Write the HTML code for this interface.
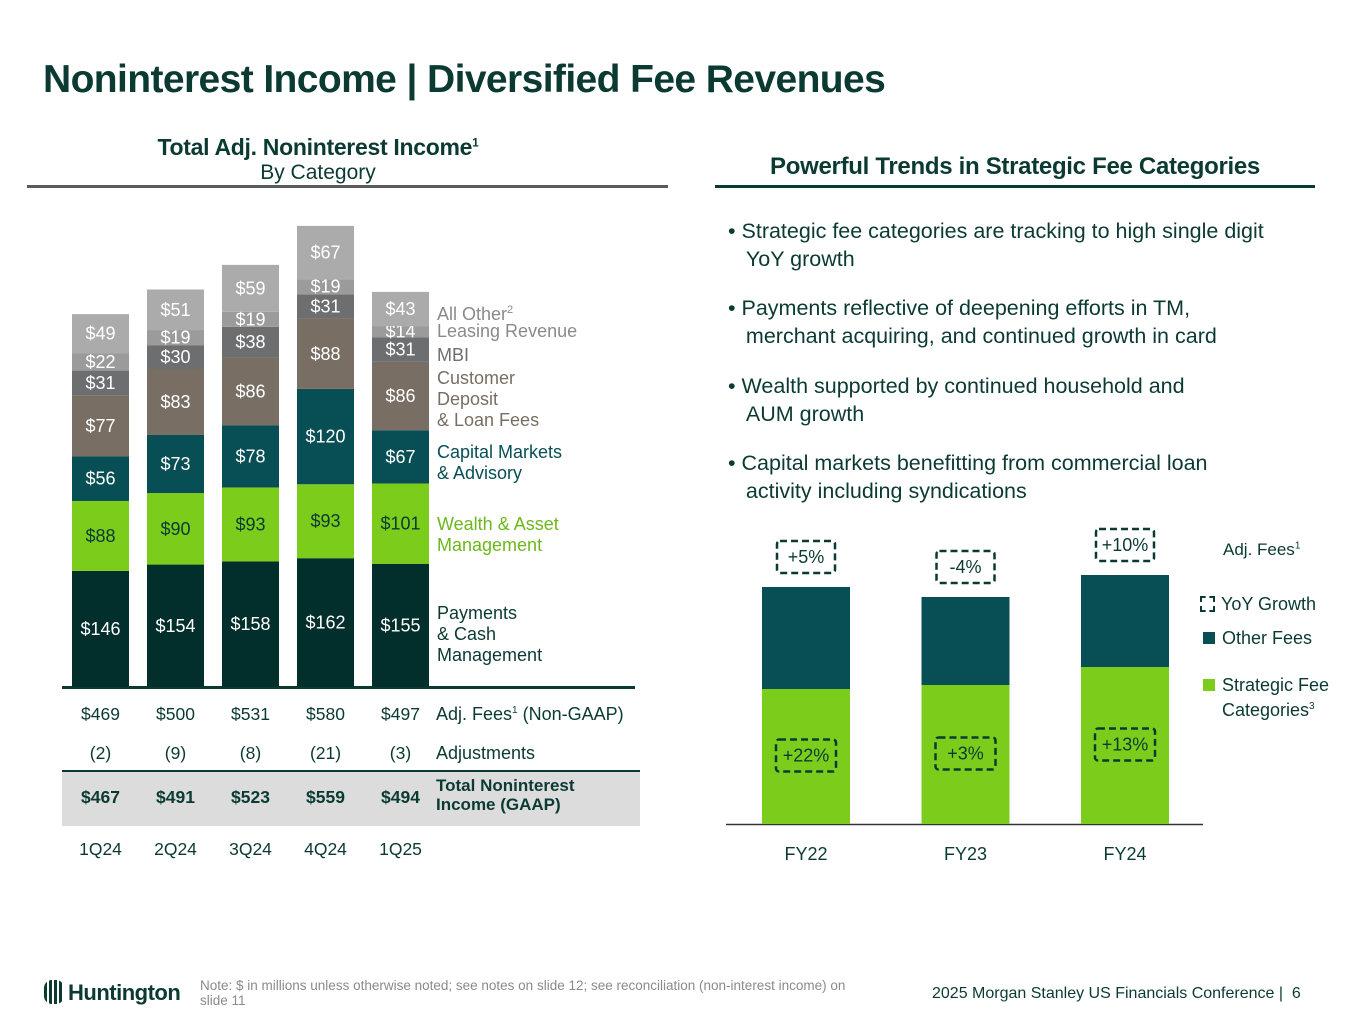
<!DOCTYPE html>
<html><head><meta charset="utf-8"><style>
body{margin:0;width:1365px;height:1024px;background:#fff;position:relative;font-family:"Liberation Sans",sans-serif;overflow:hidden}
.a{position:absolute;white-space:nowrap}
.c{transform:translateX(-50%)}
.lg{font-size:18px;line-height:21px;position:absolute}
.bul{position:absolute;left:728px;font-size:21.5px;line-height:28px;color:#0b3a33}
</style></head><body>
<div class="a" style="left:43px;top:58px;font-size:39px;font-weight:bold;color:#0b3a33;letter-spacing:-0.6px">Noninterest Income | Diversified Fee Revenues</div>

<div class="a c" style="left:318px;top:134px;font-size:23px;font-weight:bold;color:#0b3a33;letter-spacing:-0.3px">Total Adj. Noninterest Income<sup style="font-size:12px">1</sup></div>
<div class="a c" style="left:318px;top:161px;font-size:21px;color:#0b3a33">By Category</div>
<div class="a" style="left:27px;top:185px;width:641px;height:3px;background:#5b5b5b"></div>

<div class="a c" style="left:1015px;top:153px;font-size:24px;font-weight:bold;color:#0b3a33;letter-spacing:-0.3px">Powerful Trends in Strategic Fee Categories</div>
<div class="a" style="left:715px;top:185px;width:600px;height:3px;background:#0b3a33"></div>

<div class="bul" style="top:217px">• Strategic fee categories are tracking to high single digit<br>&nbsp;&nbsp;&nbsp;YoY growth</div>
<div class="bul" style="top:294px">• Payments reflective of deepening efforts in TM,<br>&nbsp;&nbsp;&nbsp;merchant acquiring, and continued growth in card</div>
<div class="bul" style="top:372px">• Wealth supported by continued household and<br>&nbsp;&nbsp;&nbsp;AUM growth</div>
<div class="bul" style="top:449px">• Capital markets benefitting from commercial loan<br>&nbsp;&nbsp;&nbsp;activity including syndications</div>

<div class="a" style="left:62px;top:770px;width:578px;height:54px;background:#dcdcdc;border-top:2px solid #0b3a33"></div>
<div class="a" style="left:62px;top:686px;width:573px;height:3px;background:#0b3a33"></div>

<svg id="left" class="a" style="left:0;top:0" width="700" height="900"></svg>

<div class="lg" style="left:437px;top:300px;color:#8a8a8a">All Other<sup style="font-size:11px">2</sup></div>
<div class="lg" style="left:437px;top:321px;color:#8a8a8a">Leasing Revenue</div>
<div class="lg" style="left:437px;top:345px;color:#6d6e6f">MBI</div>
<div class="lg" style="left:437px;top:368px;color:#786e63">Customer<br>Deposit<br>&amp; Loan Fees</div>
<div class="lg" style="left:437px;top:442px;color:#074f54">Capital Markets<br>&amp; Advisory</div>
<div class="lg" style="left:437px;top:514px;color:#6cb81c">Wealth &amp; Asset<br>Management</div>
<div class="lg" style="left:437px;top:603px;color:#0b3a33">Payments<br>&amp; Cash<br>Management</div>

<div class="a" style="left:436px;top:704px;font-size:18px;color:#0b3a33">Adj. Fees<sup style="font-size:10px">1</sup> (Non-GAAP)</div>
<div class="a" style="left:436px;top:743px;font-size:18px;color:#0b3a33">Adjustments</div>
<div class="a" style="left:436px;top:776px;font-size:17px;font-weight:bold;line-height:19px;color:#0b3a33">Total Noninterest<br>Income (GAAP)</div>

<svg id="right" class="a" style="left:0;top:0" width="1365" height="900"></svg>
<div class="a" style="left:1223px;top:540px;font-size:17px;color:#0b3a33">Adj. Fees<sup style="font-size:10px">1</sup></div>
<div class="a" style="left:1200px;top:594px;font-size:18px;color:#0b3a33"><span style="display:inline-block;width:11px;height:12px;border:2px dashed #0b3a33;margin-right:6px;vertical-align:-2px"></span>YoY Growth</div>
<div class="a" style="left:1203px;top:628px;font-size:18px;color:#0b3a33"><span style="display:inline-block;width:12px;height:12px;background:#074f54;margin-right:7px"></span>Other Fees</div>
<div class="a" style="left:1203px;top:674px;font-size:18px;line-height:22px;color:#0b3a33"><span style="display:inline-block;width:12px;height:12px;background:#7ccc1c;margin-right:7px"></span>Strategic Fee<br><span style="margin-left:19px">Categories<sup style="font-size:10px">3</sup></span></div>

<div class="a" style="left:44px;top:980px;font-size:22px;font-weight:bold;color:#0b3a33;letter-spacing:-0.5px"><span style="display:inline-block;width:20px;height:24px;background:repeating-linear-gradient(90deg,#0b3a33 0 3px,#fff 3px 5px);border-radius:8px;vertical-align:-4px;margin-right:4px"></span>Huntington</div>
<div class="a" style="left:200px;top:978px;font-size:13.5px;line-height:15px;color:#8a8a8a">Note: $ in millions unless otherwise noted; see notes on slide 12; see reconciliation (non-interest income) on<br>slide 11</div>
<div class="a" style="left:932px;top:985px;font-size:16px;color:#0b3a33">2025 Morgan Stanley US Financials Conference | &nbsp;6</div>

<script>
const quarters=["1Q24","2Q24","3Q24","4Q24","1Q25"];
const payments=[146,154,158,162,155];
const wealth=[88,90,93,93,101];
const capital=[56,73,78,120,67];
const customer=[77,83,86,88,86];
const mbi=[31,30,38,31,31];
const leasing=[22,19,19,19,14];
const allOther=[49,51,59,67,43];
const adjFees=["$469","$500","$531","$580","$497"];
const adjustments=["(2)","(9)","(8)","(21)","(3)"];
const totals=["$467","$491","$523","$559","$494"];

const NS="http://www.w3.org/2000/svg";
function mk(svg,tag,at){const e=document.createElementNS(NS,tag);for(const k in at)e.setAttribute(k,at[k]);svg.appendChild(e);return e;}
const L=document.getElementById('left');
const base=687, sc=0.795, bw=57;
const xL=i=>72+i*75;
const yL=v=>base-v*sc;
const series=[[payments,"#022e2b","#fff"],[wealth,"#7ccc1c","#0b3a33"],[capital,"#074f54","#fff"],[customer,"#786e63","#fff"],[mbi,"#6d6e6f","#fff"],[leasing,"#9b9b9b","#fff"],[allOther,"#ababab","#fff"]];
const names=["payments","wealth","capital-markets","customer-deposit","mbi","leasing","all-other"];
quarters.forEach((q,i)=>{
  let cum=0;
  series.forEach(([arr,col,tc],s)=>{
    const v=arr[i];
    const r=mk(L,'rect',{x:xL(i),y:yL(cum+v),width:bw,height:v*sc,fill:col});
    
    
    const t=mk(L,'text',{x:xL(i)+bw/2,y:yL(cum+v/2)+6,'text-anchor':'middle','font-size':18,fill:tc,'font-family':'Liberation Sans'});
    t.textContent='$'+v;
    
    
    cum+=v;
  });
  const cx=xL(i)+bw/2;
  const rows=[[adjFees[i],720,'normal'],[adjustments[i],759,'normal'],[totals[i],803,'bold'],[q,855,'normal']];
  rows.forEach(([txt,y,w],k)=>{
    const t=mk(L,'text',{x:cx,y:y,'text-anchor':'middle','font-size':17.5,'font-weight':w,fill:'#0b3a33','font-family':'Liberation Sans'});
    t.textContent=txt;
    
    
  });
});

// Right chart (index units, approximate)
const years=["FY22","FY23","FY24"];
const strategic=[135,139,157];
const otherFees=[102,88,92];
const totalGrowth=["+5%","-4%","+10%"];
const strategicGrowth=["+22%","+3%","+13%"];
const R=document.getElementById('right');
const rb=824, rs=1, rw=88;
const xR=i=>762+i*159.5;
const yR=v=>rb-v*rs;
mk(R,'line',{x1:726,x2:1203,y1:rb+0.5,y2:rb+0.5,stroke:'#333','stroke-width':1.5});
function box(cx,cy,w,txt,nm){
  const r=mk(R,'rect',{x:cx-w/2,y:cy-16,width:w,height:32,rx:3,fill:'none',stroke:'#0b3a33','stroke-width':2.5,'stroke-dasharray':'7 4'});
  
  
  const t=mk(R,'text',{x:cx,y:cy+6,'text-anchor':'middle','font-size':18,fill:'#0b3a33','font-family':'Liberation Sans'});
  t.textContent=txt;
  
  
}
years.forEach((y,i)=>{
  const s=strategic[i],o=otherFees[i];
  const r1=mk(R,'rect',{x:xR(i),y:yR(s),width:rw,height:s*rs,fill:'#7ccc1c'});
  
  
  const r2=mk(R,'rect',{x:xR(i),y:yR(s+o),width:rw,height:o*rs,fill:'#074f54'});
  
  
  const cx=xR(i)+rw/2;
  box(cx,yR(s+o)-30,58,totalGrowth[i],'total-growth-'+y);
  box(cx,yR(s/2)-1,60,strategicGrowth[i],'strategic-growth-'+y);
  const t=mk(R,'text',{x:cx,y:860,'text-anchor':'middle','font-size':18,fill:'#0b3a33','font-family':'Liberation Sans'});
  t.textContent=y;
  
  
});
</script>
</body></html>
